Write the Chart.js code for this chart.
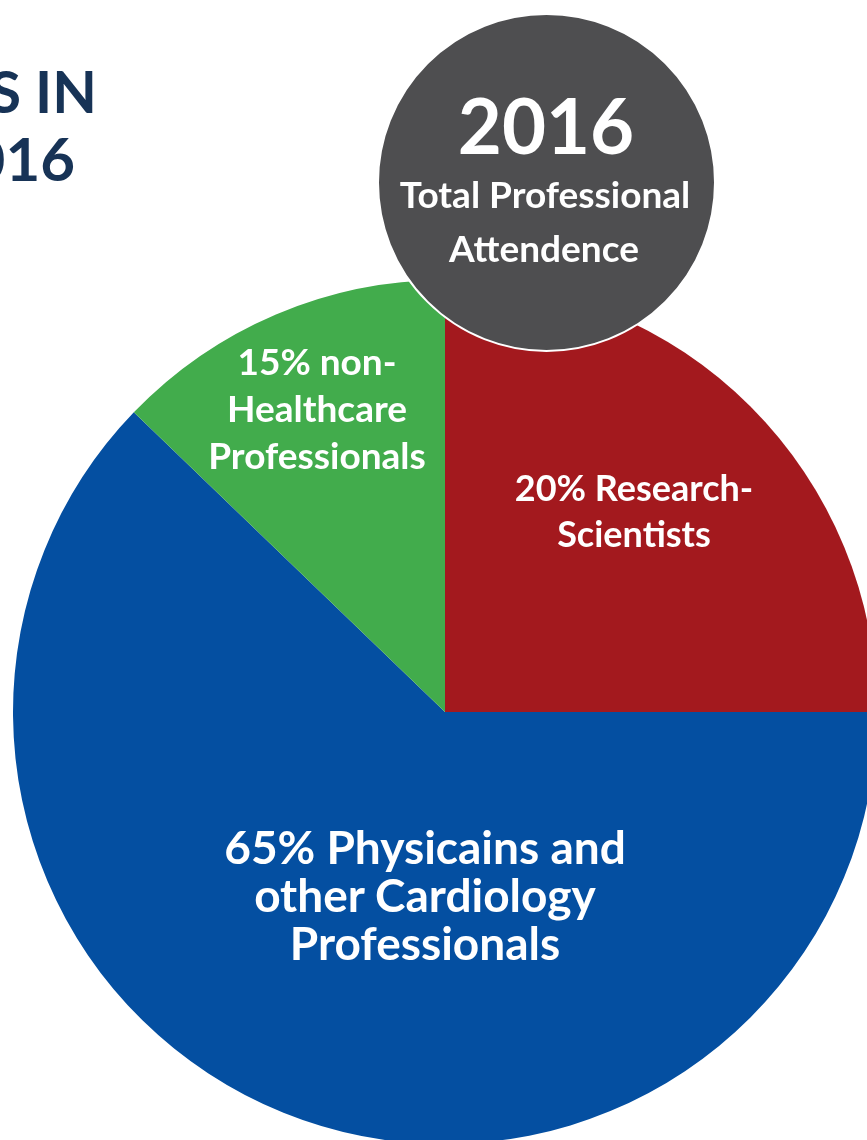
<!DOCTYPE html>
<html>
<head>
<meta charset="utf-8">
<script src="https://cdn.jsdelivr.net/npm/chart.js@4/dist/chart.umd.min.js"></script>
<style>
    body { margin: 0; background: #fff; }
    #page { position: relative; width: 867px; height: 1140px; overflow: hidden; font-family: Lato, "Open Sans", sans-serif; font-weight: 700; }
    #pie { position: absolute; left: 13px; top: 280px; }
    #badge { position: absolute; left: 377px; top: 13px; width: 339px; height: 339px; border-radius: 50%; background: #4e4e50; border: 2px solid #fff; box-sizing: border-box; }
    .t { position: absolute; white-space: nowrap; line-height: 1; }
</style>
</head>
<body>
<div id="page">
    <canvas id="pie" width="864" height="864"></canvas>
    <div id="badge"></div>
</div>
<script>
// slices in drawing order, clockwise from 12 o'clock
const categories = ['Research-Scientists', 'Physicians and other Cardiology Professionals', 'non-Healthcare Professionals'];
const sliceShares = [25, 62.2, 12.8];   // share of the circle as drawn
const sliceLabels = [
    ['20% Research-', 'Scientists'],
    ['65% Physicains and', 'other Cardiology', 'Professionals'],
    ['15% non-', 'Healthcare', 'Professionals']
];
const badgeLines = ['2016', 'Total Professional', 'Attendence'];
const titleLines = ['S IN', '016'];

const sliceColors = ['#a3191e', '#044fa1', '#42ac4c'];

const page = document.getElementById('page');

// put one line of text with its baseline at y
function addLine(text, x, baseline, size, color, align) {
    const el = document.createElement('div');
    el.className = 't';
    el.textContent = text;
    el.style.fontSize = size + 'px';
    el.style.color = color;
    el.style.top = (baseline - 0.86 * size) + 'px';
    if (align === 'right') {
        el.style.right = (867 - x) + 'px';
    } else {
        el.style.left = x + 'px';
        el.style.transform = 'translateX(-50%)';
    }
    page.appendChild(el);
}

new Chart(document.getElementById('pie'), {
    type: 'pie',
    data: {
        labels: categories,
        datasets: [{
            data: sliceShares,
            backgroundColor: sliceColors,
            borderWidth: 0
        }]
    },
    options: {
        responsive: false,
        animation: false,
        layout: { padding: 0 },
        plugins: {
            legend: { display: false },
            tooltip: { enabled: false }
        }
    }
});

// slice labels
const labelLayout = [
    { cx: 634, base: 500, gap: 46, size: 36 },
    { cx: 425, base: 864, gap: 48, size: 46 },
    { cx: 317, base: 374, gap: 47, size: 37 }
];
sliceLabels.forEach((lines, i) => {
    const l = labelLayout[i];
    lines.forEach((txt, j) => addLine(txt, l.cx, l.base + j * l.gap, l.size, '#fff'));
});

// grey badge
addLine(badgeLines[0], 546, 152, 76, '#fff');
addLine(badgeLines[1], 545, 207, 37, '#fff');
addLine(badgeLines[2], 544, 261, 37, '#fff');

// title, cut off at the left edge
addLine(titleLines[0], 97, 112, 58, '#173356', 'right');
addLine(titleLines[1], 75, 180, 60, '#173356', 'right');
</script>
</body>
</html>
